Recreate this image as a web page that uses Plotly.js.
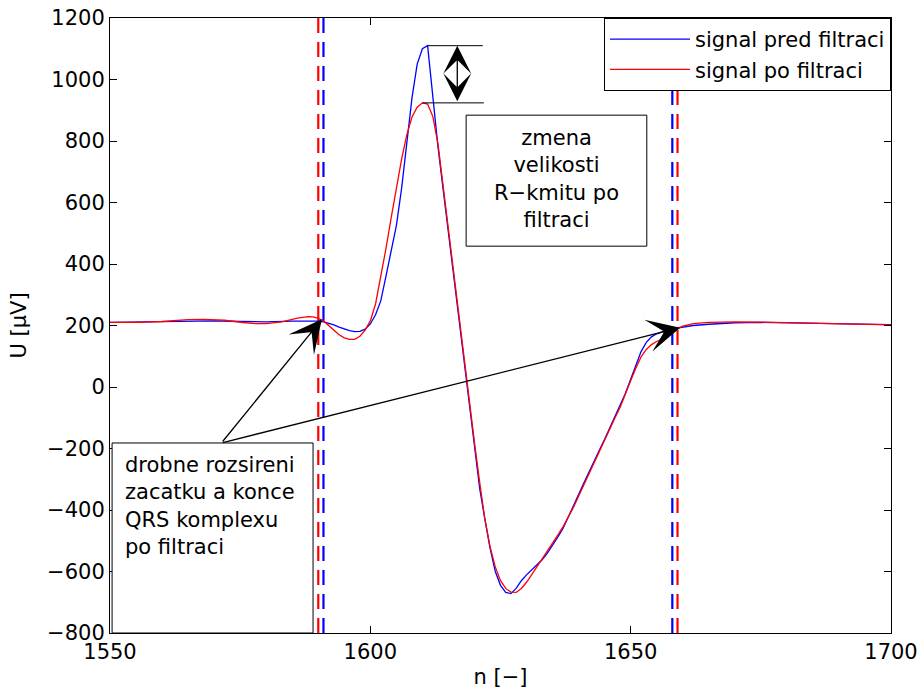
<!DOCTYPE html>
<html>
<head>
<meta charset="utf-8">
<script src="https://cdn.plot.ly/plotly-3.0.1.min.js"></script>
<style>html,body{margin:0;padding:0;background:#fff;}#chart{width:921px;height:699px;}</style>
</head>
<body>
<div id="chart"></div>
<script>
// Sample index n and signal values (µV)
const nBlue = [1550,1555,1560,1565,1570,1575,1580,1585,1588,1590,1591,1592,1593,1594,1595,1596,1597,1598,1599,1600,
  1601,1602,1603,1604,1605,1606,1607,1608,1609,1610,1611,1612,1613,1614,1615,1616,1617,1618,1619,1620,
  1621,1622,1623,1624,1625,1626,1627,1628,1629,1630,1631,1632,1633,1634,1635,1636,1637,1638,1639,1640,
  1641,1642,1643,1644,1645,1646,1647,1648,1649,1650,1651,1652,1653,1654,1655,1656,1657,1658,1659,1660,
  1662,1665,1670,1675,1680,1685,1690,1695,1700];
const uBlue = [210,211,212,214,215,213,212,214,215,214,212,208,202,195,188,183,180,181,188,205,
  235,280,360,440,525,645,800,940,1050,1100,1110,945,780,640,500,360,225,85,-55,-195,
  -330,-430,-525,-600,-645,-668,-672,-655,-630,-611,-595,-580,-562,-540,-515,-488,-460,-425,-389,-350,
  -312,-275,-240,-205,-170,-133,-98,-62,-20,25,72,115,145,163,173,180,185,189,192,195,
  200,204,209,210,209,207,205,204,203];

const nRed = [1550,1555,1560,1565,1568,1572,1576,1578,1580,1583,1586,1588,1589,1590,1591,1592,1593,1594,1595,1596,
  1597,1598,1599,1600,1601,1602,1603,1604,1605,1606,1607,1608,1609,1610,1611,1612,1613,1614,1615,1616,
  1617,1618,1619,1620,1621,1622,1623,1624,1625,1626,1627,1628,1629,1630,1631,1632,1633,1634,1635,1636,
  1637,1638,1639,1640,1641,1642,1643,1644,1645,1646,1647,1648,1649,1650,1651,1652,1653,1654,1655,1656,
  1657,1658,1659,1660,1662,1665,1670,1675,1680,1685,1690,1695,1700];
const uRed = [210,210,213,219,220,217,209,206,206,212,224,229,228,223,215,200,185,170,160,155,
  155,165,185,215,270,355,450,550,650,740,820,878,910,924,920,880,790,650,510,365,
  225,90,-45,-180,-310,-430,-520,-585,-630,-655,-667,-668,-655,-635,-610,-585,-560,-535,-508,-482,
  -455,-425,-392,-355,-318,-280,-243,-207,-172,-136,-100,-65,-25,20,62,98,122,138,148,155,
  165,178,190,198,206,210,212,211,209,207,205,204,202];

// QRS onset / offset markers
const qrsBlue = [1591, 1658];
const qrsRed = [1590, 1659];

const seriesNames = ['signal pred filtraci', 'signal po filtraci'];
const xTicks = [1550, 1600, 1650, 1700];
const yTicks = [-800,-600,-400,-200,0,200,400,600,800,1000,1200];

const FONT = 'DejaVu Sans, Liberation Sans, Arial, sans-serif';
const FS = 21;

const traces = [];
qrsRed.forEach(v => traces.push({x:[v,v], y:[-800,1200], mode:'lines', showlegend:false, hoverinfo:'skip',
  line:{color:'#ff0000', width:2.2, dash:'15px,9px'}}));
qrsBlue.forEach(v => traces.push({x:[v,v], y:[-800,1200], mode:'lines', showlegend:false, hoverinfo:'skip',
  line:{color:'#0000ff', width:2.2, dash:'15px,9px'}}));
traces.push({x:nBlue, y:uBlue, mode:'lines', name:seriesNames[0], line:{color:'#0000ff', width:1.3}});
traces.push({x:nRed, y:uRed, mode:'lines', name:seriesNames[1], line:{color:'#ff0000', width:1.3}});

// peaks derived from data
const bMax = Math.max(...uBlue), rMax = Math.max(...uRed);
const bMaxN = nBlue[uBlue.indexOf(bMax)], rMaxN = nRed[uRed.indexOf(rMax)];

// value of a series at a given n (nearest sample)
function at(ns, us, n){ let k=0; for(let i=0;i<ns.length;i++){ if(Math.abs(ns[i]-n)<Math.abs(ns[k]-n)) k=i; } return us[k]; }

const tailX = 1571.4, tailY = -182;

const layout = {
  width:921, height:699,
  margin:{l:110, r:30, t:18, b:66},
  paper_bgcolor:'#fff', plot_bgcolor:'#fff',
  font:{family:FONT, size:FS, color:'#000'},
  showlegend:true,
  legend:{x:1, y:1, xanchor:'right', yanchor:'top', bgcolor:'#fff', bordercolor:'#000', borderwidth:1,
    font:{family:FONT, size:FS, color:'#000'}, itemwidth:80, tracegroupgap:0},
  xaxis:{range:[1550,1700], tickvals:xTicks, ticks:'inside', ticklen:7, tickcolor:'#000',
    showline:true, linecolor:'#000', linewidth:1, mirror:'ticks', showgrid:false, zeroline:false,
    title:{text:'n [−]', font:{family:FONT, size:FS}, standoff:6}, tickfont:{family:FONT, size:FS}},
  yaxis:{range:[-800,1200], tickvals:yTicks, ticks:'inside', ticklen:7, tickcolor:'#000',
    showline:true, linecolor:'#000', linewidth:1, mirror:'ticks', showgrid:false, zeroline:false,
    title:{text:'U [µV]', font:{family:FONT, size:FS}, standoff:14}, tickfont:{family:FONT, size:FS}},
  shapes:[
    {type:'rect', xref:'x', yref:'y', x0:1550.4, x1:1589, y0:-800, y1:-182, line:{color:'#000', width:1}, fillcolor:'#fff', layer:'above'},
    {type:'rect', xref:'x', yref:'y', x0:1618.4, x1:1653.1, y0:458, y1:884, line:{color:'#000', width:1}, fillcolor:'#fff', layer:'above'},
    {type:'line', xref:'x', yref:'y', x0:bMaxN, x1:1621.6, y0:bMax, y1:bMax, line:{color:'#000', width:1}},
    {type:'line', xref:'x', yref:'y', x0:rMaxN, x1:1621.8, y0:rMax, y1:rMax, line:{color:'#000', width:1}}
  ],
  annotations:[
    {xref:'x', yref:'y', x:1552.5, y:-207, xanchor:'left', yanchor:'top', align:'left', showarrow:false,
      text:'drobne rozsireni<br>zacatku a konce<br>QRS komplexu<br>po filtraci', font:{family:FONT, size:FS}},
    {xref:'x', yref:'y', x:1635.8, y:676, xanchor:'center', yanchor:'middle', align:'center', showarrow:false,
      text:'zmena<br>velikosti<br>R−kmitu po<br>filtraci', font:{family:FONT, size:FS}},
    {xref:'x', yref:'y', x:qrsBlue[0]-0.3, y:at(nBlue,uBlue,qrsBlue[0])+8, axref:'x', ayref:'y', ax:tailX, ay:tailY,
      text:'', showarrow:true, arrowhead:3, arrowsize:4.2, arrowwidth:1.3, arrowcolor:'#000', standoff:0, startstandoff:0},
    {xref:'x', yref:'y', x:qrsRed[1]+0.5, y:at(nRed,uRed,qrsRed[1])+3, axref:'x', ayref:'y', ax:tailX, ay:tailY,
      text:'', showarrow:true, arrowhead:3, arrowsize:4.2, arrowwidth:1.3, arrowcolor:'#000', standoff:0, startstandoff:0},
    {xref:'x', yref:'y', x:1616.7, y:bMax, axref:'x', ayref:'y', ax:1616.7, ay:rMax,
      text:'', showarrow:true, arrowside:'end+start', arrowhead:3, startarrowhead:3, arrowsize:3.6, startarrowsize:3.6,
      arrowwidth:1.3, arrowcolor:'#000', standoff:0, startstandoff:0}
  ]
};

Plotly.newPlot('chart', traces, layout, {staticPlot:true, displayModeBar:false});
</script>
</body>
</html>
